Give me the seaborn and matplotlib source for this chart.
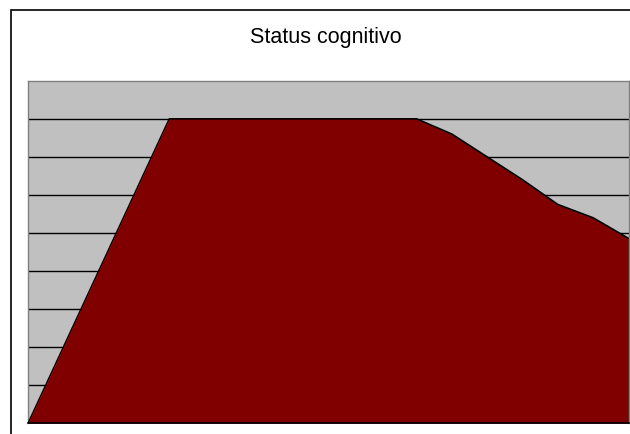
import numpy as np
import pandas as pd
import matplotlib
matplotlib.use("Agg")
import matplotlib.pyplot as plt
import seaborn as sns
from matplotlib.patches import Rectangle

# Data
title = "Status cognitivo"
points = list(range(18))
values = [0, 2, 4, 6, 8, 8, 8, 8, 8, 8, 8, 8, 7.6, 7.0, 6.4, 5.75, 5.4, 4.86]

df = pd.DataFrame({"x": points, "y": values})

sns.set_style("white")
plt.rcParams['font.family'] = ['Liberation Sans', 'DejaVu Sans']

fig = plt.figure(figsize=(6.3, 4.35), dpi=100)
fig.patch.set_facecolor("white")

# outer chart border
fig.patches.append(Rectangle((10.5/630, 1 - 435/435 - 0.05), 1.2, (435 - 10.5)/435 + 0.05,
                             transform=fig.transFigure, fill=False, edgecolor="black",
                             linewidth=1.2, clip_on=False))

ax = fig.add_axes([28/630, (435-424.3)/435, 600.5/630, (424.3-81.7)/435])
ax.set_facecolor("#C0C0C0")

ax.fill_between(df["x"], 0, df["y"], color="#800000", zorder=2, linewidth=0)
sns.lineplot(data=df, x="x", y="y", ax=ax, color="black", linewidth=1.1, zorder=3)

ax.set_xlim(0, 17)
ax.set_ylim(0, 9)
ax.set_yticks(range(1, 9))
ax.yaxis.grid(True, color="black", linewidth=1.0, zorder=1)
ax.set_axisbelow(True)
ax.set_xticks([])
ax.tick_params(axis="y", length=0, labelleft=False)
ax.set_xlabel("")
ax.set_ylabel("")

for s in ["top", "left", "right"]:
    ax.spines[s].set_color("#808080")
    ax.spines[s].set_linewidth(1.0)
ax.spines["bottom"].set_color("black")
ax.spines["bottom"].set_linewidth(1.2)

fig.text(326/630, 1 - 43.3/435, title, ha="center", va="baseline", fontsize=15.5, color="black")

fig.savefig("out.png", dpi=100)
